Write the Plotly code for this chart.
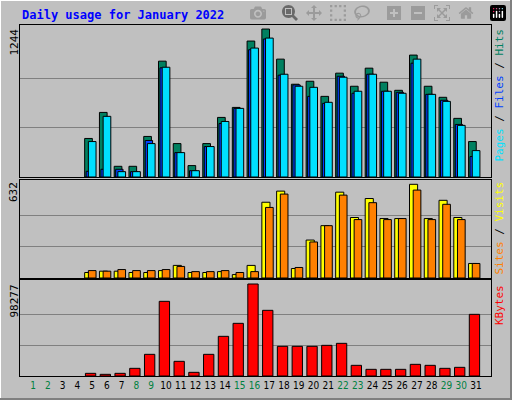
import plotly.graph_objects as go

days = list(range(1, 32))
hits = [0,0,0,0,324,543,90,90,341,974,281,96,281,501,585,1143,1244,991,780,805,678,873,763,915,797,729,1025,763,670,493,298]
files = [0,0,0,0,48,65,65,45,307,918,205,53,256,450,577,1070,1160,856,774,678,619,847,704,864,721,712,957,695,645,442,172]
pages = [0,0,0,0,298,510,45,45,281,923,205,53,256,467,577,1084,1168,864,763,754,628,839,721,864,721,704,991,695,636,434,222]
visits = [0,0,0,0,37,46,46,37,37,50,85,37,37,43,23,85,511,586,64,256,353,579,408,536,401,401,632,401,524,408,98]
sites = [0,0,0,0,50,46,57,50,50,57,78,43,43,50,37,43,476,566,71,243,353,559,394,508,394,401,593,394,497,394,98]
kbytes = [0,0,0,0,2850,1780,2850,8190,23140,79760,15670,3920,23140,42370,56260,98277,70150,31690,31690,31690,32760,34900,11390,7120,7120,7120,12460,11390,8190,9260,65870]
weekend = [1,2,8,9,15,16,22,23,29,30]
max_hits, max_visits, max_kb = 1244, 632, 98277

fig = go.Figure()
line = dict(color="black", width=1)
def bar(y, color, off, w, ax):
    yy = [v if v else None for v in y]
    fig.add_trace(go.Bar(x=days, y=yy, marker=dict(color=color, line=line), offset=off, width=w,
                         xaxis="x" + ax, yaxis="y" + ax, showlegend=False, hoverinfo="skip"))
bar(hits, "#008060", -0.5, 0.52, "")
bar(files, "#0040FF", -0.4, 0.5, "")
bar(pages, "#00E0FF", -0.25, 0.52, "")
bar(visits, "#FFFF00", -0.5, 0.55, "2")
bar(sites, "#FF8000", -0.25, 0.52, "2")
bar(kbytes, "#FF0000", -0.45, 0.7, "3")

xr = [0.12, 32.02]
xd = [20/512, 491/512]
ticktext = [f"<span style='color:#008040'>{d}</span>" if d in weekend else str(d) for d in days]
common_x = dict(range=xr, domain=xd, showgrid=False, zeroline=False, showline=True, linecolor="black", mirror=True)
def yax(mx, top, dom):
    return dict(range=[0, top], domain=dom, tickvals=[mx/3, 2*mx/3], showticklabels=False, ticks="",
                gridcolor="#808080", gridwidth=1, zeroline=False, showline=True, linecolor="black", mirror=True)
fig.update_layout(
    width=512, height=400, margin=dict(l=0, r=0, t=0, b=0),
    paper_bgcolor="#C0C0C0", plot_bgcolor="#C0C0C0", barmode="overlay",
    font=dict(family="DejaVu Sans Mono", size=11, color="black"),
    xaxis=dict(**common_x, anchor="y", showticklabels=False),
    xaxis2=dict(**common_x, anchor="y2", showticklabels=False),
    xaxis3=dict(**common_x, anchor="y3", tickvals=days, ticktext=ticktext, ticks="", tickangle=0,
                tickfont=dict(size=10, family="DejaVu Sans Condensed")),
    yaxis=yax(max_hits, 1278, [1-177/400, 1-25/400]),
    yaxis2=yax(max_visits, 661, [1-278/400, 1-180/400]),
    yaxis3=yax(max_kb, 102550, [1-376/400, 1-280/400]),
)
ann = [
    dict(text="<b>Daily usage for January 2022</b>", x=20/512, y=1-15/400, xanchor="left", yanchor="middle",
         font=dict(color="#0000FF", size=12)),
    dict(text=str(max_hits), x=14/512, y=1-27/400, textangle=-90, yanchor="top", xanchor="center"),
    dict(text=str(max_visits), x=14/512, y=1-180/400, textangle=-90, yanchor="top", xanchor="center"),
    dict(text=str(max_kb), x=14/512, y=1-283/400, textangle=-90, yanchor="top", xanchor="center"),
    dict(text="<span style='color:#00E0FF'>Pages</span> / <span style='color:#0040FF'>Files</span> / <span style='color:#008060'>Hits</span>",
         x=499/512, y=1-27/400, textangle=-90, yanchor="top", xanchor="center"),
    dict(text="<span style='color:#FF8000'>Sites</span> / <span style='color:#FFFF00'>Visits</span>",
         x=499/512, y=1-180/400, textangle=-90, yanchor="top", xanchor="center"),
    dict(text="<span style='color:#FF0000'>KBytes</span>",
         x=499/512, y=1-283/400, textangle=-90, yanchor="top", xanchor="center"),
]
for a in ann:
    a.update(xref="paper", yref="paper", showarrow=False)
fig.update_layout(annotations=ann)
fig.update_layout(shapes=[
    dict(type="line", xref="paper", yref="paper", x0=0, x1=1, y0=1, y1=1, line=dict(color="white", width=2)),
    dict(type="line", xref="paper", yref="paper", x0=0, x1=0, y0=0, y1=1, line=dict(color="white", width=2)),
    dict(type="line", xref="paper", yref="paper", x0=0, x1=1, y0=0, y1=0, line=dict(color="#808080", width=4)),
    dict(type="line", xref="paper", yref="paper", x0=1, x1=1, y0=0, y1=1, line=dict(color="#808080", width=4)),
])
fig.write_html("out.html", post_script="document.body.style.margin='0';document.body.style.overflow='hidden';")
